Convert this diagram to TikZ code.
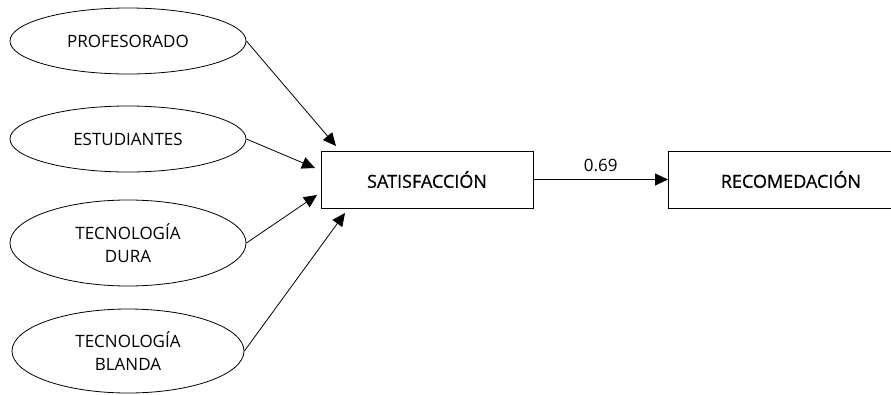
\documentclass[tikz,border=0pt]{standalone}
\usepackage{fontspec}
\setmainfont{Open Sans}
\newfontfamily\boxfont[FakeBold=0.6]{Open Sans}
\usetikzlibrary{shapes.geometric,arrows.meta}
\begin{document}
\begin{tikzpicture}[x=1pt,y=-1pt,
  construct/.style={draw,ellipse,line width=0.8pt,inner sep=0pt,align=center,font=\fontsize{17}{23}\selectfont},
  observed/.style={draw,rectangle,line width=0.8pt,inner sep=0pt,font=\boxfont\fontsize{18}{21}\selectfont},
  path/.style={line width=0.8pt,-{Triangle[length=13pt,width=12pt]}}]
\useasboundingbox (0,0) rectangle (891,394);
\begin{scope}
\clip (0,0) rectangle (891,394);
% latent factors
\node[construct,minimum width=236pt,minimum height=66pt] (prof) at (128,41) {PROFESORADO};
\node[construct,minimum width=236pt,minimum height=66pt] (est) at (128,139) {ESTUDIANTES};
\node[construct,minimum width=236pt,minimum height=86pt] (dura) at (128,243) {TECNOLOGÍA\\DURA};
\node[construct,minimum width=232pt,minimum height=84pt] (blanda) at (128,351) {TECNOLOGÍA\\BLANDA};
% outcome boxes
\node[observed,minimum width=212pt,minimum height=57pt] (sat) at (427,179.5) {SATISFACCIÓN};
\node[observed,minimum width=245pt,minimum height=57pt,anchor=west] (rec) at (668,179.5) {RECOMEDACIÓN};
\end{scope}
% arrow tips near the satisfaction box
\coordinate (t1) at (336,146);
\coordinate (t2) at (315,168);
\coordinate (t3) at (317,195);
\coordinate (t4) at (345,213);
\draw[path] (prof.east) -- (t1);
\draw[path] (est.east) -- (t2);
\draw[path] (dura.east) -- (t3);
\draw[path] (blanda.east) -- (t4);
\draw[path] (sat.east) -- node[above=4pt,font=\fontsize{17}{20}\selectfont] {0.69} (rec.west);
\end{tikzpicture}
\end{document}
